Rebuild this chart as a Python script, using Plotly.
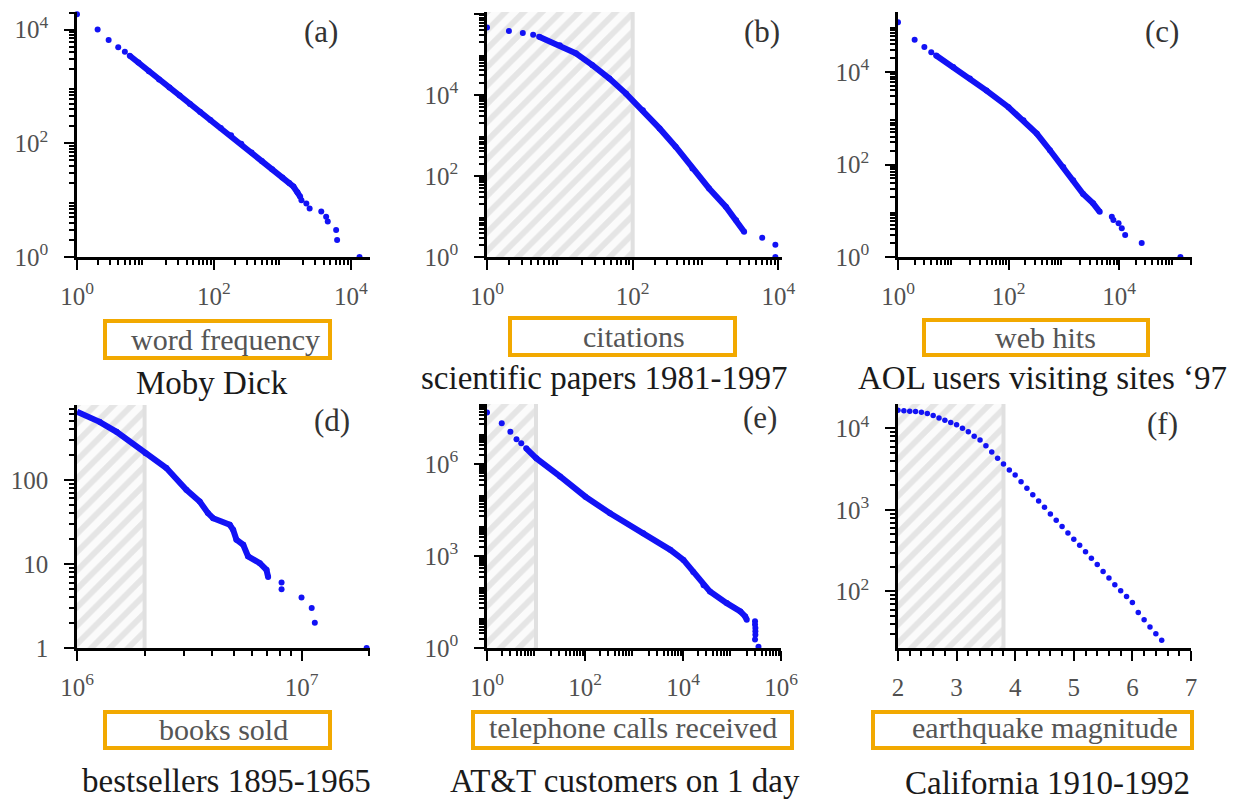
import plotly.graph_objects as go

# the page is photographed at 1254x802; the browser puts the figure 8px in from the corner
PAGE_W, PAGE_H, OFF = 1254, 802, 8
FW, FH = PAGE_W - OFF, PAGE_H - OFF
BLUE = "#1212f5"
ORANGE = "#f2a900"
SERIF = "Liberation Serif"

# ---------------- data ----------------
# (a) word frequency - Moby Dick
a_head_x = [1, 2, 2.9, 4.0, 5.0]
a_head_y = [18600, 10000, 6600, 4900, 4100]
a_body_x = [5.9, 7.9, 11.2, 15.8, 22.4, 31.6, 44.7, 63, 89, 126, 178, 251, 355, 501, 708, 1000, 1260, 1450, 1660, 1820]
a_body_y = [3470, 2630, 1860, 1320, 955, 692, 490, 355, 257, 186, 138, 98, 69, 49, 35, 25, 20, 17.4, 13.8, 11.5]
a_tail_x = [1900, 2240, 2500, 3700, 4360, 4600, 6100, 6300, 13400]
a_tail_y = [10, 8.7, 7.1, 6.3, 5.1, 4.2, 3.0, 2.0, 1.0]

# (b) citations - scientific papers 1981-1997
b_head_x = [1, 2.0, 3.1, 4.3]
b_head_y = [457000, 372000, 331000, 302000]
b_body_x = [5.2, 10, 16.6, 28, 48, 81, 138, 234, 389, 661, 1120, 1900, 2630, 3390]
b_body_y = [269000, 166000, 105000, 53700, 25100, 10700, 4170, 1480, 525, 151, 49, 17.4, 8.1, 4.2]
b_tail_x = [6000, 9100, 9100]
b_tail_y = [3.0, 2.0, 1.0]
b_shade = [1, 100]

# (c) web hits - AOL users visiting sites '97
c_head_x = [1, 2, 3, 4]
c_head_y = [120000, 50000, 34700, 27000]
c_body_x = [4.9, 10, 20, 40, 100, 186, 324, 562, 977, 1480, 2240, 3390, 4470]
c_body_y = [22900, 12900, 7240, 3980, 1740, 912, 468, 204, 89, 46, 23, 14.5, 9.5]
c_tail_x = [7400, 7900, 9800, 11200, 12900, 25700, 129000]
c_tail_y = [7.4, 6.3, 5.4, 4.2, 3.0, 2.0, 1.0]

# (d) books sold - bestsellers 1895-1965
d_body_x = [1.0e6, 1.26e6, 1.5e6, 2.02e6, 2.5e6, 3.07e6, 3.52e6, 3.83e6, 4.04e6, 4.79e6, 4.96e6,
            5.13e6, 5.5e6, 5.78e6, 6.52e6, 6.98e6, 7.1e6]
d_body_y = [646, 490, 372, 207, 138, 76, 55.3, 40.2, 35, 29.2, 25.5, 19.4, 16.9, 12.3, 10.2, 8.5, 7]
d_tail_x = [8.15e6, 8.15e6, 1.0e7, 1.11e7, 1.146e7, 1.95e7]
d_tail_y = [6, 5, 4, 3, 2, 1]
d_shade = [1e6, 2e6]

# (e) telephone calls received - AT&T customers on 1 day
e_head_x = [1, 2, 3, 4, 5]
e_head_y = [4.7e7, 2.1e7, 1.12e7, 6.3e6, 4.7e6]
e_body_x = [6.3, 10.2, 31, 102, 324, 1550, 5500, 10200, 16200, 26300, 35500, 78000, 148000, 186000, 200000]
e_body_y = [3.2e6, 1.51e6, 3.89e5, 8.5e4, 2.45e4, 5500, 1580, 740, 300, 110, 69, 29, 15.6, 10.7, 8.3]
e_tail_x = [295000, 295000, 300000, 300000, 300000, 295000, 347000]
e_tail_y = [7.4, 5.8, 4.5, 3.5, 2.7, 1.9, 1.1]
e_shade = [1, 10]

# (f) earthquake magnitude - California 1910-1992
f_mag = [2.0, 2.1, 2.2, 2.3, 2.4, 2.5, 2.6, 2.7, 2.8, 2.9, 3.0, 3.1, 3.2, 3.3, 3.4, 3.5, 3.6, 3.7,
         3.8, 3.9, 4.0, 4.1, 4.2, 4.3, 4.4, 4.5, 4.6, 4.7, 4.8, 4.9, 5.0, 5.1, 5.2, 5.3, 5.4, 5.5,
         5.6, 5.7, 5.8, 5.9, 6.0, 6.1, 6.2, 6.3, 6.4, 6.5, 6.6]
f_count = [16750, 16440, 16290, 16140, 15850, 15280, 14420, 13400, 12650, 11830, 11090, 10090,
           9100, 8050, 7190, 6140, 5130, 4300, 3660, 3090, 2690, 2220, 1840, 1540, 1290, 1080,
           893, 746, 625, 522, 438, 369, 306, 256, 214, 176, 146, 121, 102, 86.9, 73.3, 55.3,
           45.0, 36.6, 30.3, 25.1, 20.2]
f_shade = [2, 3.8]

panel_letters = ["(a)", "(b)", "(c)", "(d)", "(e)", "(f)"]
box_labels = ["word frequency", "citations", "web hits",
              "books sold", "telephone calls received", "earthquake magnitude"]
titles = ["Moby Dick", "scientific papers 1981-1997", "AOL users visiting sites \u201897",
          "bestsellers 1895-1965", "AT&T customers on 1 day", "California 1910-1992"]

# ---------------- layout geometry (page pixels -> paper fractions) ----------------
def fx(p):
    return (p - OFF) / FW

def fy(p):
    return 1 - (p - OFF) / FH

def xd(x0, x1):
    return [fx(x0), fx(x1)]

def yd(top, bottom):
    return [fy(bottom), fy(top)]

def sup(k):
    return f"10<sup>{k}</sup>"

def minors(lo, hi, top):
    return [m * 10 ** k for k in range(lo, hi + 1) for m in range(2, 10) if m * 10 ** k <= top]

TICKFONT = dict(family=SERIF, size=25, color="#505050")

def axis(domain, anchor, rng, tickvals, ticktext, minor, typ="log", standoff=5):
    d = dict(domain=domain, anchor=anchor, range=rng, type=typ, automargin=False,
             showline=True, linecolor="black", linewidth=2.5,
             ticks="outside", ticklen=10, tickwidth=2, tickcolor="black",
             tickvals=tickvals, ticktext=ticktext, ticklabelstandoff=standoff,
             showgrid=False, zeroline=False, fixedrange=True, tickfont=TICKFONT)
    d["minor"] = dict(ticks="outside", ticklen=5, tickwidth=1.5, tickcolor="black", showgrid=False, **minor)
    return d

def overlay(base, anchor, rng, tickvals):
    # long unlabelled decade ticks
    return dict(overlaying=base, anchor=anchor, range=rng, type="log", automargin=False,
                showline=False, ticks="outside", ticklen=10, tickwidth=2, tickcolor="black",
                tickvals=tickvals, showticklabels=False, showgrid=False, zeroline=False,
                fixedrange=True)

YS = 11
L = {}
# (a)
L["xaxis"] = axis(xd(77, 370), "y", [0, 4.28], [1, 100, 1e4], [sup(0), sup(2), sup(4)],
                  dict(tickvals=minors(0, 4, 10 ** 4.28)))
L["yaxis"] = axis(yd(12, 257), "x", [0, 4.31], [1, 100, 1e4], [sup(0), sup(2), sup(4)],
                  dict(tickvals=minors(0, 4, 10 ** 4.31)), standoff=YS)
# (b)
L["xaxis2"] = axis(xd(487, 782), "y2", [0, 4.05], [1, 100, 1e4], [sup(0), sup(2), sup(4)],
                   dict(tickvals=minors(0, 4, 10 ** 4.05)))
L["yaxis2"] = axis(yd(12, 257), "x2", [0, 6.04], [1, 100, 1e4, 1e6], [sup(0), sup(2), sup(4), sup(6)],
                   dict(tickvals=minors(0, 6, 10 ** 6.04)), standoff=YS)
# (c)
L["xaxis3"] = axis(xd(898, 1192), "y3", [0, 5.32], [1, 100, 1e4], [sup(0), sup(2), sup(4)],
                   dict(tickvals=minors(0, 5, 10 ** 5.32)))
L["yaxis3"] = axis(yd(12, 257), "x3", [0, 5.3], [1, 100, 1e4], [sup(0), sup(2), sup(4)],
                   dict(tickvals=minors(0, 5, 10 ** 5.3)), standoff=YS)
# (d)
L["xaxis4"] = axis(xd(77, 370), "y4", [6, 7.305], [1e6, 1e7], [sup(6), sup(7)],
                   dict(tickvals=minors(6, 7, 10 ** 7.305)))
L["yaxis4"] = axis(yd(405, 648), "x4", [0, 2.89], [1, 10, 100], ["1", "10", "100"],
                   dict(tickvals=minors(0, 2, 10 ** 2.89)), standoff=YS)
# (e)
L["xaxis5"] = axis(xd(487, 781), "y5", [0, 6.0], [1, 100, 1e4, 1e6], [sup(0), sup(2), sup(4), sup(6)],
                   dict(tickvals=minors(0, 6, 10 ** 6.0)))
L["yaxis5"] = axis(yd(404, 648), "x5", [0, 7.95], [1, 1e3, 1e6], [sup(0), sup(3), sup(6)],
                   dict(tickvals=minors(0, 7, 10 ** 7.95)), standoff=YS)
# (f)
L["xaxis6"] = axis(xd(898, 1191), "y6", [2, 7], [2, 3, 4, 5, 6, 7], ["2", "3", "4", "5", "6", "7"],
                   dict(dtick=0.2, tick0=2), typ="linear")
L["yaxis6"] = axis(yd(404, 648), "x6", [1.306, 4.30], [100, 1000, 10000], [sup(2), sup(3), sup(4)],
                   dict(tickvals=minors(1, 4, 10 ** 4.30)), standoff=YS)

# unlabelled long decade ticks
L["xaxis7"] = overlay("x", "y", [0, 4.28], [10, 1000])
L["yaxis7"] = overlay("y", "x", [0, 4.31], [10, 1000])
L["xaxis8"] = overlay("x2", "y2", [0, 4.05], [10, 1000])
L["yaxis8"] = overlay("y2", "x2", [0, 6.04], [10, 1000, 1e5])
L["xaxis9"] = overlay("x3", "y3", [0, 5.32], [10, 1000, 1e5])
L["yaxis9"] = overlay("y3", "x3", [0, 5.3], [10, 1000, 1e5])
L["xaxis10"] = overlay("x5", "y5", [0, 6.0], [10, 1000, 1e5])
L["yaxis10"] = overlay("y5", "x5", [0, 7.95], [10, 100, 1e4, 1e5, 1e7])

fig = go.Figure()

def add_shade(xa, ya, xs, yrng_log):
    y0, y1 = 10 ** yrng_log[0], 10 ** yrng_log[1]
    x0, x1 = xs
    fig.add_trace(go.Scatter(x=[x0, x1, x1, x0, x0], y=[y0, y0, y1, y1, y0], mode="lines",
                             fill="toself", fillcolor="#ffffff",
                             fillpattern=dict(shape="/", fgcolor="#cfcfcf", bgcolor="#fbfbfb",
                                              size=13, solidity=0.45),
                             line=dict(width=0, color="rgba(0,0,0,0)"),
                             xaxis=xa, yaxis=ya, hoverinfo="skip", showlegend=False))
    fig.add_trace(go.Scatter(x=[x1, x1], y=[y0, y1], mode="lines",
                             line=dict(width=4, color="#e0e0e0"),
                             xaxis=xa, yaxis=ya, hoverinfo="skip", showlegend=False))

add_shade("x2", "y2", b_shade, [0, 6.04])
add_shade("x4", "y4", d_shade, [0, 2.89])
add_shade("x5", "y5", e_shade, [0, 7.95])
add_shade("x6", "y6", f_shade, [1.306, 4.30])

def add_series(xa, ya, bx, by, sx, sy, msize=6):
    fig.add_trace(go.Scatter(x=bx, y=by, mode="lines+markers", line=dict(color=BLUE, width=6),
                             marker=dict(color=BLUE, size=6), xaxis=xa, yaxis=ya,
                             cliponaxis=False, showlegend=False))
    fig.add_trace(go.Scatter(x=sx, y=sy, mode="markers", marker=dict(color=BLUE, size=msize),
                             xaxis=xa, yaxis=ya, cliponaxis=False, showlegend=False))

add_series("x", "y", a_body_x, a_body_y, a_head_x + a_tail_x, a_head_y + a_tail_y)
add_series("x2", "y2", b_body_x, b_body_y, b_head_x + b_tail_x, b_head_y + b_tail_y)
add_series("x3", "y3", c_body_x, c_body_y, c_head_x + c_tail_x, c_head_y + c_tail_y)
add_series("x4", "y4", d_body_x, d_body_y, d_tail_x, d_tail_y)
add_series("x5", "y5", e_body_x, e_body_y, e_head_x + e_tail_x, e_head_y + e_tail_y)
fig.add_trace(go.Scatter(x=f_mag, y=f_count, mode="markers", marker=dict(color=BLUE, size=5.5),
                         xaxis="x6", yaxis="y6", cliponaxis=False, showlegend=False))

# ---------------- boxes, labels, titles (page pixels) ----------------
box_px = [(105, 321, 330, 358), (510, 318, 735, 355), (924, 320, 1148, 355),
          (105, 712, 330, 748), (473, 712, 792, 748), (873, 712, 1192, 748)]
box_text_px = [(225, 339), (634, 336), (1045, 337), (224, 729), (633, 727), (1045, 727)]
title_px = [(212, 383), (604, 378), (1042, 378), (226, 781), (625, 781), (1047, 783)]
letter_px = [(321, 32), (762, 32), (1162, 32), (332, 420), (760, 418), (1162, 423)]

shapes = []
annotations = []
for (x0, y0, x1, y1) in box_px:
    shapes.append(dict(type="rect", xref="paper", yref="paper", x0=fx(x0), x1=fx(x1),
                       y0=fy(y1), y1=fy(y0), line=dict(color=ORANGE, width=4),
                       fillcolor="rgba(0,0,0,0)", layer="above"))
for txt, (x, y) in zip(box_labels, box_text_px):
    annotations.append(dict(text=txt, x=fx(x), y=fy(y), xref="paper", yref="paper",
                            showarrow=False, xanchor="center", yanchor="middle",
                            font=dict(family=SERIF, size=30, color="#555555")))
for txt, (x, y) in zip(titles, title_px):
    annotations.append(dict(text=txt, x=fx(x), y=fy(y), xref="paper", yref="paper",
                            showarrow=False, xanchor="center", yanchor="middle",
                            font=dict(family=SERIF, size=33, color="#1a1a1a")))
for txt, (x, y) in zip(panel_letters, letter_px):
    annotations.append(dict(text=txt, x=fx(x), y=fy(y), xref="paper", yref="paper",
                            showarrow=False, xanchor="center", yanchor="middle",
                            font=dict(family=SERIF, size=31, color="#333333")))

fig.update_layout(width=FW, height=FH, autosize=False, margin=dict(l=0, r=0, t=0, b=0),
                  paper_bgcolor="white", plot_bgcolor="white", showlegend=False,
                  font=dict(family=SERIF),
                  shapes=shapes, annotations=annotations, **L)

fig.write_html("out.html")
